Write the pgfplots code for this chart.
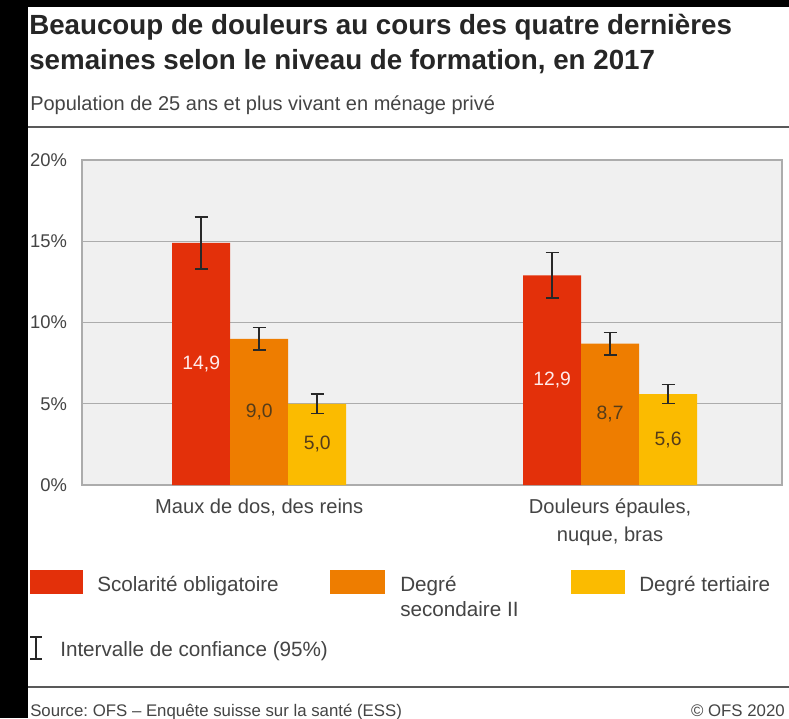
\documentclass[border=0pt]{standalone}
\usepackage{pgfplots}
\pgfplotsset{compat=1.18}
\usepackage{fontspec}
\setmainfont{Liberation Sans}
\frenchspacing
\definecolor{ofsred}{RGB}{227,48,10}
\definecolor{ofsorange}{RGB}{238,125,0}
\definecolor{ofsyellow}{RGB}{251,187,0}
\definecolor{plotbg}{RGB}{240,240,240}
\definecolor{gridgray}{RGB}{172,172,172}
\definecolor{txt}{RGB}{68,68,68}
\definecolor{errc}{RGB}{40,40,40}
\definecolor{vallab}{RGB}{85,60,25}

\begin{document}
\begin{tikzpicture}[x=0.75pt,y=-0.75pt]
\clip (0,0) rectangle (789,718);
\fill[white] (0,0) rectangle (789,718);
\fill[black] (0,0) rectangle (28,718);
\fill[black] (0,0) rectangle (789,7);

% title block
\node[anchor=base west, inner sep=0pt, text=black!85, font=\fontsize{20.8pt}{24pt}\selectfont\bfseries] at (29,34) {Beaucoup de douleurs au cours des quatre dernières};
\node[anchor=base west, inner sep=0pt, text=black!85, font=\fontsize{20.8pt}{24pt}\selectfont\bfseries] at (29,69) {semaines selon le niveau de formation, en 2017};
\node[anchor=base west, inner sep=0pt, text=txt, font=\fontsize{15pt}{18pt}\selectfont] at (30,110) {Population de 25 ans et plus vivant en ménage privé};
\draw[black!65, line width=1.5pt] (28,127) -- (789,127);

\coordinate (O) at (82,485);
\begin{axis}[
    at={(O)}, anchor=south west,
    scale only axis,
    width=525pt, height=243.75pt,
    xmin=-0.505, xmax=1.49,
    ymin=0, ymax=20,
    ybar=0pt, bar width=43.5pt,
    axis background/.style={fill=plotbg},
    axis line style={gridgray, line width=1.1pt},
    ymajorgrids,
    grid style={gridgray, line width=1.1pt},
    ytick={0,5,10,15,20},
    yticklabel={\pgfmathprintnumber{\tick}\%},
    /pgf/number format/assume math mode=true,
    yticklabel style={font=\fontsize{13.8pt}{16pt}\selectfont, text=txt, anchor=east, inner sep=0pt, xshift=-11pt},
    xtick={0,1},
    xticklabels={{Maux de dos, des reins}, {Douleurs épaules,\\nuque, bras}},
    xticklabel style={font=\fontsize{15.1pt}{21pt}\selectfont, text=txt, align=center, anchor=north, inner sep=0pt, yshift=-10pt},
    major tick length=0pt,
    clip=false,
    error bars/error mark=|,
    error bars/error bar style={errc, line width=1.1pt},
    error bars/error mark options={errc, line width=1.1pt, mark size=4.9pt},
]
\addplot[draw=none, fill=ofsred, error bars/.cd, y dir=both, y explicit]
    coordinates {(0,14.9) +- (0,1.6) (1,12.9) +- (0,1.4)};
\addplot[draw=none, fill=ofsorange, error bars/.cd, y dir=both, y explicit]
    coordinates {(0,9.0) +- (0,0.7) (1,8.7) +- (0,0.7)};
\addplot[draw=none, fill=ofsyellow, error bars/.cd, y dir=both, y explicit]
    coordinates {(0,5.0) +- (0,0.6) (1,5.6) +- (0,0.6)};

\tikzset{vl/.style={font=\fontsize{14.5pt}{16pt}\selectfont, inner sep=0pt}}
\node[vl, text=red!8] at ([xshift=-43.5pt]axis cs:0,7.45) {14,9};
\node[vl, text=vallab] at (axis cs:0,4.5) {9,0};
\node[vl, text=vallab] at ([xshift=43.5pt]axis cs:0,2.5) {5,0};
\node[vl, text=red!8] at ([xshift=-43.5pt]axis cs:1,6.45) {12,9};
\node[vl, text=vallab] at (axis cs:1,4.35) {8,7};
\node[vl, text=vallab] at ([xshift=43.5pt]axis cs:1,2.8) {5,6};
\end{axis}

% legend
\tikzset{lg/.style={anchor=base west, inner sep=0pt, text=txt, font=\fontsize{15.5pt}{18pt}\selectfont}}
\fill[ofsred] (30,570) rectangle (83,594);
\node[lg] at (97,591) {Scolarité obligatoire};
\fill[ofsorange] (330,570) rectangle (385,594);
\node[lg] at (400,591) {Degré};
\node[lg] at (400,616) {secondaire II};
\fill[ofsyellow] (571,570) rectangle (625,594);
\node[lg] at (639,591) {Degré tertiaire};

\draw[errc, line width=1.1pt] (36,637) -- (36,659) (30,637) -- (42,637) (30,659) -- (42,659);
\node[lg] at (60,656) {Intervalle de confiance (95\%)};

\draw[black!65, line width=1.5pt] (28,687) -- (789,687);
\node[anchor=base west, inner sep=0pt, text=txt, font=\fontsize{12.6pt}{15pt}\selectfont] at (30,716) {Source: OFS – Enquête suisse sur la santé (ESS)};
\node[anchor=base east, inner sep=0pt, text=txt, font=\fontsize{12.6pt}{15pt}\selectfont] at (785,716) {© OFS 2020};
\end{tikzpicture}
\end{document}
